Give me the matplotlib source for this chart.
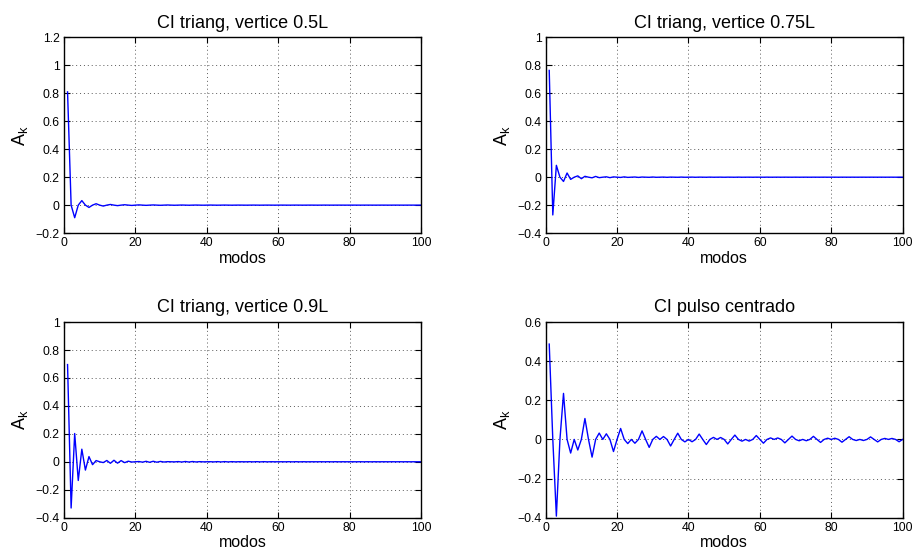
import matplotlib
matplotlib.use("Agg")
import matplotlib.pyplot as plt
from matplotlib.ticker import FuncFormatter, MultipleLocator

plt.rcParams['font.family'] = ['Liberation Sans', 'DejaVu Sans']
plt.rcParams['mathtext.fontset'] = 'custom'
plt.rcParams['mathtext.rm'] = 'Liberation Sans'
plt.rcParams['mathtext.it'] = 'Liberation Sans'

modos = list(range(1, 101))

# A_k, CI triangular con vertice en 0.5L
tri_05 = [0.8106, 0, -0.0901, 0, 0.0324, 0, -0.0165, 0, 0.0100, 0,
          -0.0067, 0, 0.0048, 0, -0.0036, 0, 0.0028, 0, -0.0022, 0,
          0.0018, 0, -0.0015, 0, 0.0013, 0, -0.0011, 0, 0.0010, 0,
          -0.0008, 0, 0.0007, 0, -0.0007, 0, 0.0006, 0, -0.0005, 0,
          0.0005, 0, -0.0004, 0, 0.0004, 0, -0.0004, 0, 0.0003, 0,
          -0.0003, 0, 0.0003, 0, -0.0003, 0, 0.0002, 0, -0.0002, 0,
          0.0002, 0, -0.0002, 0, 0.0002, 0, -0.0002, 0, 0.0002, 0,
          -0.0002, 0, 0.0002, 0, -0.0001, 0, 0.0001, 0, -0.0001, 0,
          0.0001, 0, -0.0001, 0, 0.0001, 0, -0.0001, 0, 0.0001, 0,
          -0.0001, 0, 0.0001, 0, -0.0001, 0, 0.0001, 0, -0.0001, 0]

# vertice en 0.75L
tri_075 = [0.7642, -0.2702, 0.0849, 0, -0.0306, 0.0300, -0.0156, 0, 0.0094, -0.0108,
           0.0063, 0, -0.0045, 0.0055, -0.0034, 0, 0.0026, -0.0033, 0.0021, 0,
           -0.0017, 0.0022, -0.0014, 0, 0.0012, -0.0016, 0.0010, 0, -0.0009, 0.0012,
           -0.0008, 0, 0.0007, -0.0009, 0.0006, 0, -0.0006, 0.0007, -0.0005, 0,
           0.0005, -0.0006, 0.0004, 0, -0.0004, 0.0005, -0.0003, 0, 0.0003, -0.0004,
           0.0003, 0, -0.0003, 0.0004, -0.0003, 0, 0.0002, -0.0003, 0.0002, 0,
           -0.0002, 0.0003, -0.0002, 0, 0.0002, -0.0002, 0.0002, 0, -0.0002, 0.0002,
           -0.0002, 0, 0.0001, -0.0002, 0.0001, 0, -0.0001, 0.0002, -0.0001, 0,
           0.0001, -0.0002, 0.0001, 0, -0.0001, 0.0001, -0.0001, 0, 0.0001, -0.0001,
           0.0001, 0, -0.0001, 0.0001, -0.0001, 0, 0.0001, -0.0001, 0.0001, 0]

# vertice en 0.9L
tri_09 = [0.6957, -0.3309, 0.2024, -0.1338, 0.0901, -0.0595, 0.0372, -0.0207, 0.0086, 0,
          -0.0057, 0.0092, -0.0108, 0.0109, -0.0100, 0.0084, -0.0063, 0.0041, -0.0019, 0,
          0.0016, -0.0027, 0.0034, -0.0037, 0.0036, -0.0032, 0.0025, -0.0017, 0.0008, 0,
          -0.0007, 0.0013, -0.0017, 0.0019, -0.0018, 0.0017, -0.0013, 0.0009, -0.0005, 0,
          0.0004, -0.0008, 0.0010, -0.0011, 0.0011, -0.0010, 0.0008, -0.0006, 0.0003, 0,
          -0.0003, 0.0005, -0.0006, 0.0007, -0.0007, 0.0007, -0.0006, 0.0004, -0.0002, 0,
          0.0002, -0.0003, 0.0005, -0.0005, 0.0005, -0.0005, 0.0004, -0.0003, 0.0001, 0,
          -0.0001, 0.0003, -0.0003, 0.0004, -0.0004, 0.0004, -0.0003, 0.0002, -0.0001, 0,
          0.0001, -0.0002, 0.0003, -0.0003, 0.0003, -0.0003, 0.0002, -0.0002, 0.0001, 0,
          -0.0001, 0.0002, -0.0002, 0.0002, -0.0002, 0.0002, -0.0002, 0.0001, -0.0001, 0]

# pulso centrado
pulso = [0.4873, 0, -0.3921, 0, 0.2353, 0, -0.0696, 0, -0.0541, 0,
         0.1069, 0, -0.0905, 0, 0.0325, 0, 0.0287, 0, -0.0619, 0,
         0.0560, 0, -0.0212, 0, -0.0195, 0, 0.0436, 0, -0.0406, 0,
         0.0157, 0, 0.0148, 0, -0.0336, 0, 0.0318, 0, -0.0125, 0,
         -0.0119, 0, 0.0274, 0, -0.0261, 0, 0.0104, 0, 0.0099, 0,
         -0.0231, 0, 0.0222, 0, -0.0089, 0, -0.0085, 0, 0.0199, 0,
         -0.0193, 0, 0.0077, 0, 0.0075, 0, -0.0176, 0, 0.0170, 0,
         -0.0069, 0, -0.0067, 0, 0.0157, 0, -0.0153, 0, 0.0062, 0,
         0.0060, 0, -0.0142, 0, 0.0138, 0, -0.0056, 0, -0.0055, 0,
         0.0129, 0, -0.0126, 0, 0.0051, 0, 0.0050, 0, -0.0119, 0]

titulos = ['CI triang, vertice 0.5L', 'CI triang, vertice 0.75L',
           'CI triang, vertice 0.9L', 'CI pulso centrado']
series = [tri_05, tri_075, tri_09, pulso]
ylims = [(-0.2, 1.2), (-0.4, 1.0), (-0.4, 1.0), (-0.4, 0.6)]

# posiciones de los ejes (fraccion de figura), estilo subplot de MATLAB
lefts = [0.070, 0.597, 0.070, 0.597]
bottoms = [0.577, 0.577, 0.0605, 0.0605]
w, h = 0.3906, 0.355


def fmt(v, pos):
    s = '%g' % round(v, 6)
    return s.replace('-', '\u2212')


fig = plt.figure(figsize=(9.14, 5.51), dpi=100)

for i in range(4):
    ax = fig.add_axes([lefts[i], bottoms[i], w, h])
    ax.plot(modos, series[i], color='blue', lw=1.0)
    ax.set_xlim(0, 100)
    ax.set_ylim(*ylims[i])
    ax.xaxis.set_major_locator(MultipleLocator(20))
    ax.yaxis.set_major_locator(MultipleLocator(0.2))
    ax.yaxis.set_major_formatter(FuncFormatter(fmt))
    ax.grid(True, color='0.35', linestyle=(0, (1, 3)), lw=0.7)
    ax.tick_params(direction='in', length=4, width=0.8, top=True, right=True,
                   labelsize=8.8, pad=3, colors='black')
    for sp in ax.spines.values():
        sp.set_linewidth(1.0)
    ax.set_title(titulos[i], fontsize=13, pad=7)
    ax.set_xlabel('modos', fontsize=11.5, labelpad=1)
    ax.set_ylabel(r'$\mathregular{A_k}$', fontsize=13, labelpad=4)

fig.savefig('out.png', dpi=100)
